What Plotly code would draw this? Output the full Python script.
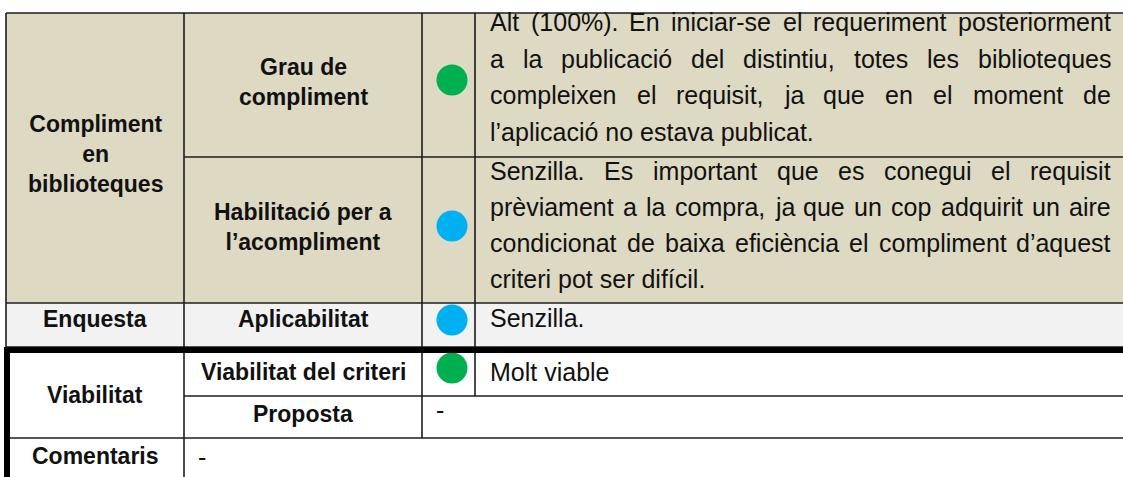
import plotly.graph_objects as go

# ---------------- data ----------------
group_labels = ["Compliment<br>en<br>biblioteques", "Enquesta", "Viabilitat", "Comentaris"]
criteria_labels = ["Grau de<br>compliment", "Habilitació per a<br>l’acompliment",
                   "Aplicabilitat", "Viabilitat del criteri", "Proposta"]
status_colors = ["#00B050", "#00B0F0", "#00B0F0", "#00B050"]

grau_lines = [
    "Alt (100%). En iniciar-se el requeriment posteriorment",
    "a la publicació del distintiu, totes les biblioteques",
    "compleixen el requisit, ja que en el moment de",
    "l’aplicació no estava publicat.",
]
habilitacio_lines = [
    "Senzilla. Es important que es conegui el requisit",
    "prèviament a la compra, ja que un cop adquirit un aire",
    "condicionat de baixa eficiència el compliment d’aquest",
    "criteri pot ser difícil.",
]
aplicabilitat_text = "Senzilla."
viabilitat_text = "Molt viable"
proposta_text = "-"
comentaris_text = "-"

# ---------------- layout geometry ----------------
W, H = 1123, 477
X0, X1, X2, X3, XR = 6, 184, 422, 475, 1140
Y_TOP, Y_R1, Y_R2, Y_R3, Y_THK, Y_R4, Y_R5, Y_BOT = 13, 157, 303, 347, 353, 396, 438, 490
BEIGE = "#DDD9C3"
LIGHT = "#F2F2F2"
LINE = "#1c1c1c"
TXT = "#111111"
FONT = "Liberation Sans, Arial, sans-serif"
HEAD_SIZE = 23
BODY_SIZE = 25
TEXT_L, TEXT_R = 490, 1111

ARIAL = {' ': 278, 'a': 556, 'b': 556, 'c': 500, 'd': 556, 'e': 556, 'f': 278, 'g': 556,
         'h': 556, 'i': 222, 'j': 222, 'k': 500, 'l': 222, 'm': 833, 'n': 556, 'o': 556,
         'p': 556, 'q': 556, 'r': 333, 's': 500, 't': 278, 'u': 556, 'v': 500, 'w': 722,
         'x': 500, 'y': 500, 'z': 500, 'A': 667, 'E': 667, 'S': 667, 'M': 833,
         '(': 333, ')': 333, '%': 889, '.': 278, ',': 278, '-': 333, '’': 222, "'": 191,
         'à': 556, 'è': 556, 'é': 556, 'í': 278, 'ó': 556, 'ò': 556, 'ú': 556, 'ç': 500}
for d in "0123456789":
    ARIAL[d] = 556


def text_width(s, size):
    return sum(ARIAL.get(ch, 556) for ch in s) * size / 1000.0


fig = go.Figure()
shapes = []
annotations = []


def rect(x0, y0, x1, y1, color, layer="below"):
    shapes.append(dict(type="rect", xref="x", yref="y", x0=x0, y0=y0, x1=x1, y1=y1,
                       fillcolor=color, line=dict(width=0), layer=layer))


def line(x0, y0, x1, y1, width=1.6):
    shapes.append(dict(type="line", xref="x", yref="y", x0=x0, y0=y0, x1=x1, y1=y1,
                       line=dict(color=LINE, width=width), layer="above"))


def ann(text, x, y, size, bold=False, xanchor="center", yanchor="middle"):
    annotations.append(dict(text=text, x=x, y=y, xref="x", yref="y", showarrow=False,
                            xanchor=xanchor, yanchor=yanchor, align="center",
                            borderpad=0, borderwidth=0,
                            font=dict(family=FONT, size=size, color=TXT,
                                      weight="bold" if bold else "normal")))


def paragraph(lines, y_first, gap):
    for i, ln in enumerate(lines):
        y = y_first + i * gap
        words = ln.split(" ")
        if i == len(lines) - 1 or len(words) == 1:
            ann(ln, TEXT_L, y, BODY_SIZE, xanchor="left")
            continue
        widths = [text_width(w, BODY_SIZE) for w in words]
        space = (TEXT_R - TEXT_L - sum(widths)) / (len(words) - 1)
        x = TEXT_L
        for j, (w, wd) in enumerate(zip(words, widths)):
            if j == len(words) - 1:
                ann(w, TEXT_R, y, BODY_SIZE, xanchor="right")
            else:
                ann(w, x, y, BODY_SIZE, xanchor="left")
            x += wd + space


# backgrounds
rect(X0, Y_TOP, XR, Y_R2, BEIGE)
rect(X0, Y_R2, XR, Y_R3, LIGHT)

# thin grid lines
line(X0, Y_TOP, XR, Y_TOP)
line(X1, Y_R1, XR, Y_R1)
line(X0, Y_R2, XR, Y_R2)
line(X0, Y_R3, XR, Y_R3)
line(X1, Y_R4, XR, Y_R4)
line(10, Y_R5, XR, Y_R5)
line(X0, Y_TOP, X0, Y_R3)
line(X1, Y_TOP, X1, Y_BOT)
line(X2, Y_TOP, X2, Y_R5)
line(X3, Y_TOP, X3, Y_R4)

# thick frame of the lower block
rect(4, Y_R3, XR, Y_THK, "#000000", layer="above")
rect(4, Y_R3, 10, Y_BOT, "#000000", layer="above")

# status dots
dot_x = [452, 452, 452, 452]
dot_y = [80, 226, 320, 368]
fig.add_trace(go.Scatter(x=dot_x, y=dot_y, mode="markers", hoverinfo="skip",
                         marker=dict(size=31, color=status_colors, line=dict(width=0)),
                         showlegend=False))

# first column labels
c0 = (X0 + X1) / 2
ann(group_labels[0], c0, 154, HEAD_SIZE, bold=True)
ann(group_labels[1], c0, 319, HEAD_SIZE, bold=True)
ann(group_labels[2], c0, 395, HEAD_SIZE, bold=True)
ann(group_labels[3], c0, 456, HEAD_SIZE, bold=True)

# second column labels
c1 = (X1 + X2) / 2
ann(criteria_labels[0], c1, 82, HEAD_SIZE, bold=True)
ann(criteria_labels[1], c1, 227, HEAD_SIZE, bold=True)
ann(criteria_labels[2], c1, 319, HEAD_SIZE, bold=True)
ann(criteria_labels[3], c1, 372, HEAD_SIZE, bold=True)
ann(criteria_labels[4], c1, 414, HEAD_SIZE, bold=True)

# descriptions
paragraph(grau_lines, 22, 36.7)
paragraph(habilitacio_lines, 171, 36)
ann(aplicabilitat_text, TEXT_L, 318, BODY_SIZE, xanchor="left")
ann(viabilitat_text, TEXT_L, 372, BODY_SIZE, xanchor="left")
ann(proposta_text, 436, 410, BODY_SIZE, xanchor="left")
ann(comentaris_text, 198, 457, BODY_SIZE, xanchor="left")

fig.update_layout(
    width=W, height=H, margin=dict(l=0, r=0, t=0, b=0),
    paper_bgcolor="white", plot_bgcolor="white",
    xaxis=dict(range=[0, W], visible=False, fixedrange=True),
    yaxis=dict(range=[H, 0], visible=False, fixedrange=True),
    shapes=shapes, annotations=annotations, showlegend=False,
)
fig.write_html("out.html", config={"displayModeBar": False},
               post_script="document.body.style.margin='0px';document.body.style.overflow='hidden';")
